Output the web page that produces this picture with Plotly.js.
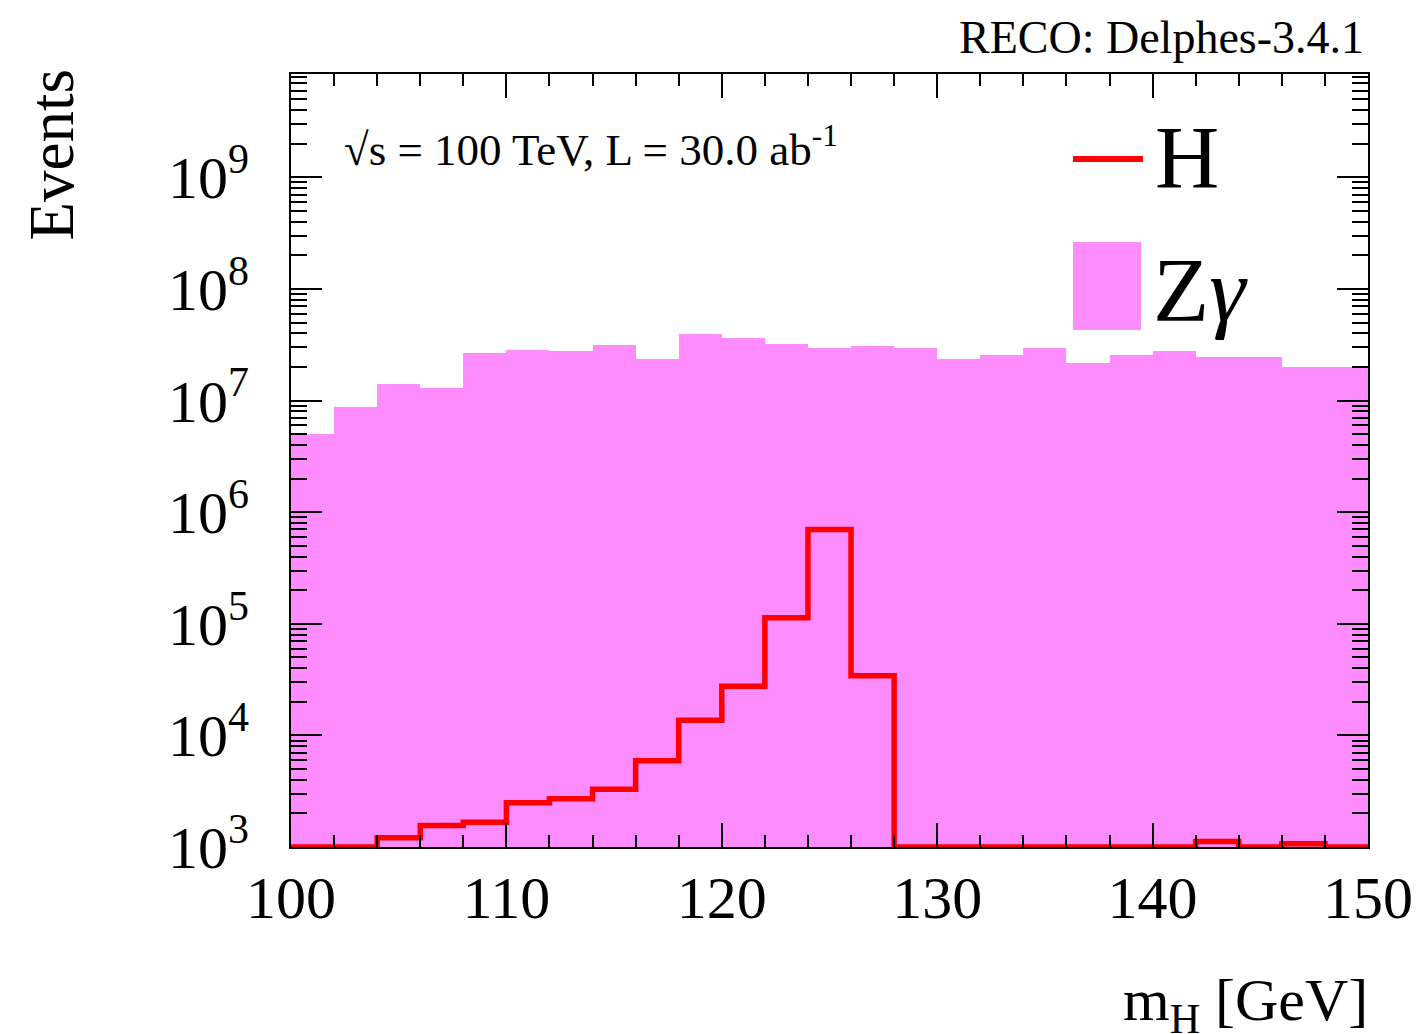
<!DOCTYPE html>
<html>
<head>
<meta charset="utf-8">
<script src="https://cdn.plot.ly/plotly-3.0.1.min.js"></script>
<style>html,body{margin:0;padding:0;background:#fff;}</style>
</head>
<body>
<div id="chart" style="width:1424px;height:1034px;"></div>
<script>
// Bin centres (2 GeV bins from 100 to 150 GeV)
const binCenters = [101,103,105,107,109,111,113,115,117,119,121,123,125,127,129,131,133,135,137,139,141,143,145,147,149];
const binWidth = 2;
// Z gamma background (events per bin)
const zgamma = [5.0e6, 8.7e6, 1.41e7, 1.30e7, 2.65e7, 2.86e7, 2.77e7, 3.13e7, 2.36e7, 3.95e7, 3.66e7, 3.24e7, 2.98e7,
                3.10e7, 2.98e7, 2.36e7, 2.55e7, 2.98e7, 2.17e7, 2.55e7, 2.77e7, 2.44e7, 2.44e7, 2.00e7, 2.00e7];
// H signal (events per bin)
const higgs = [1000, 1000, 1210, 1560, 1670, 2490, 2700, 3300, 5940, 13700, 27600, 113000, 700000, 34300,
               1000, 1000, 1000, 1000, 1000, 1000, 1000, 1120, 1000, 1070, 1000];
// Tick labels
const yTickVals = [1e3,1e4,1e5,1e6,1e7,1e8,1e9];
const yTickText = ["3","4","5","6","7","8","9"].map(e => "10<sup>" + e + "</sup>");
const xTickVals = [100,110,120,130,140,150];
const xTickText = ["100","110","120","130","140","150"];

const FONT = "Liberation Serif, Times New Roman, serif";

// step line for H
const hx = binCenters.map(c => c - binWidth/2).concat([binCenters[binCenters.length-1] + binWidth/2]);
const hy = higgs.concat([higgs[higgs.length-1]]);

const traces = [
  {
    type: "bar", x: binCenters, y: zgamma, width: binWidth,
    marker: {color: "#ff8cff", line: {width: 0}}, name: "Zγ", showlegend: false, hoverinfo: "skip"
  },
  {
    type: "scatter", mode: "lines", x: hx, y: hy,
    line: {color: "#ff0000", width: 5.5, shape: "hv"}, name: "H", showlegend: false, hoverinfo: "skip"
  }
];

const px = v => (v - 291) / 1077;
const py = v => (847 - v) / 773;

const layout = {
  width: 1424, height: 1034,
  margin: {l: 291, r: 56, t: 74, b: 187, pad: 0},
  paper_bgcolor: "#fff", plot_bgcolor: "#fff",
  bargap: 0, showlegend: false,
  font: {family: FONT, color: "#000"},
  xaxis: {
    range: [100, 150], tickvals: xTickVals, ticktext: xTickText,
    ticks: "inside", ticklen: 24, tickwidth: 2, tickcolor: "#000",
    minor: {dtick: 2, ticks: "inside", ticklen: 12, tickwidth: 2, tickcolor: "#000", showgrid: false},
    showline: true, linewidth: 2, linecolor: "#000", mirror: "allticks",
    showgrid: false, zeroline: false,
    tickfont: {family: FONT, size: 60, color: "#000"}, ticklabelstandoff: -3
  },
  yaxis: {
    type: "log", range: [3, 9.926], tickvals: yTickVals, ticktext: yTickText,
    ticks: "inside", ticklen: 31, tickwidth: 2, tickcolor: "#000",
    minor: {dtick: "D1", ticks: "inside", ticklen: 16, tickwidth: 2, tickcolor: "#000", showgrid: false},
    showline: true, linewidth: 2, linecolor: "#000", mirror: "allticks",
    showgrid: false, zeroline: false,
    tickfont: {family: FONT, size: 60, color: "#000"}, ticklabelstandoff: 28
  },
  shapes: [
    {type: "line", xref: "paper", yref: "paper", x0: px(1073), x1: px(1143), y0: py(159), y1: py(159),
     line: {color: "#ff0000", width: 6}},
    {type: "rect", xref: "paper", yref: "paper", x0: px(1073), x1: px(1141), y0: py(330), y1: py(242),
     fillcolor: "#ff8cff", line: {width: 0}}
  ],
  annotations: [
    {xref: "paper", yref: "paper", x: px(1153), y: py(157), xanchor: "left", yanchor: "middle",
     text: "H", showarrow: false, font: {family: FONT, size: 89, color: "#000"}},
    {xref: "paper", yref: "paper", x: px(1151), y: py(290), xanchor: "left", yanchor: "middle",
     text: "Z<i>γ</i>", showarrow: false, font: {family: FONT, size: 92, color: "#000"}},
    {xref: "paper", yref: "paper", x: px(342), y: py(146), xanchor: "left", yanchor: "middle",
     text: "√s = 100 TeV, L = 30.0 ab<sup>-1</sup>", showarrow: false, font: {family: FONT, size: 45, color: "#000"}},
    {xref: "paper", yref: "paper", x: px(1366), y: py(37), xanchor: "right", yanchor: "middle",
     text: "RECO: Delphes-3.4.1", showarrow: false, font: {family: FONT, size: 46, color: "#000"}},
    {xref: "paper", yref: "paper", x: px(1370), y: py(1004), xanchor: "right", yanchor: "middle",
     text: "m<sub>H</sub> [GeV]", showarrow: false, font: {family: FONT, size: 60, color: "#000"}},
    {xref: "paper", yref: "paper", x: px(52), y: py(68), xanchor: "center", yanchor: "top", textangle: -90,
     text: "Events", showarrow: false, font: {family: FONT, size: 63, color: "#000"}}
  ]
};

Plotly.newPlot("chart", traces, layout, {staticPlot: true, displayModeBar: false});
</script>
</body>
</html>
